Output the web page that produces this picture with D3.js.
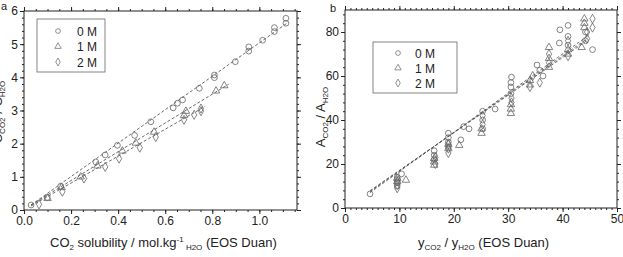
<!DOCTYPE html>
<html>
<head>
<meta charset="utf-8">
<script src="https://cdn.jsdelivr.net/npm/d3@7"></script>
<style>
body { margin: 0; background: #fff; }
text { font-family: "Liberation Sans", Arial, sans-serif; fill: #222; }
</style>
</head>
<body>
<svg id="chart" width="623" height="257"></svg>
<script>
// ---- panel a data (ratio vs CO2 solubility) ----
var a0x = [0.03, 0.099, 0.156, 0.305, 0.345, 0.397, 0.47, 0.539, 0.634, 0.652, 0.674, 0.745, 0.809, 0.809, 0.898, 0.955, 0.955, 1.014, 1.064, 1.064, 1.113, 1.113];
var a0y = [0.15, 0.38, 0.72, 1.45, 1.66, 1.95, 2.25, 2.66, 3.08, 3.22, 3.32, 3.67, 3.99, 4.07, 4.47, 4.79, 4.92, 5.12, 5.38, 5.50, 5.63, 5.78];
var a1x = [0.10, 0.16, 0.241, 0.312, 0.418, 0.475, 0.553, 0.68, 0.688, 0.816, 0.851];
var a1y = [0.35, 0.68, 1.00, 1.33, 1.78, 2.02, 2.35, 2.85, 2.98, 3.59, 3.75];
var a2x = [0.064, 0.163, 0.255, 0.345, 0.404, 0.492, 0.56, 0.68, 0.723, 0.752, 0.752];
var a2y = [0.17, 0.55, 0.95, 1.30, 1.55, 1.88, 2.20, 2.72, 2.87, 2.98, 3.06];
// fit lines: [x start, x end, slope, intercept]
var aFits = [[0.03, 1.12, 5.04, 0.0], [0.03, 0.87, 4.34, 0.02], [0.03, 0.77, 4.06, 0.0]];

// ---- panel b data (A ratio vs y ratio) ----
var b0x = [4.6, 9.6, 9.6, 9.6, 9.6, 10.4, 16.4, 16.4, 16.4, 19, 19, 19, 19, 21.3, 22.8, 21.8, 25.3, 25.3, 25.3, 27.6, 30.5, 30.5, 30.5, 30.6, 35.3, 35.8, 36.4, 39.5, 39.4, 41, 41, 41, 44.2, 44.2, 45.5];
var b0y = [6.4, 10, 11.5, 13, 14, 15.5, 22, 24, 26, 28, 30, 32, 34, 31, 36, 37, 36, 40, 44, 45, 52, 55, 57, 59.5, 65, 62.6, 60, 81, 75, 83, 78, 74, 80, 76, 72];
var b1x = [9.6, 9.6, 11.2, 16.4, 16.4, 16.4, 19, 19, 21, 25.1, 25.1, 30.5, 30.5, 30.5, 34, 34, 37.5, 37.5, 37.5, 41, 41, 44, 44, 44, 43.5];
var b1y = [12, 13.5, 12.7, 19.5, 21, 22.5, 27, 29, 28.5, 34, 36, 43, 45, 47, 56, 58, 64, 68, 73, 70, 72, 82, 84, 86, 73];
var b2x = [9.6, 9.6, 9.6, 16.6, 16.6, 19, 19, 19, 25.3, 25.3, 30.6, 30.6, 34, 34.5, 35.8, 37.5, 37.5, 41, 41, 44.5, 44.5, 45.5, 45.5];
var b2y = [9, 10.5, 12, 20, 23, 25, 27, 29, 38, 42, 48, 50, 55, 60, 57, 66, 70, 69, 76, 77, 80, 82, 86];
var bFits = [[4.6, 44.5, 1.78, -1.2], [4.6, 44.5, 1.74, -0.5], [4.6, 44.5, 1.71, 0.0]];

var seriesNames = ["0 M", "1 M", "2 M"];
var symbolTypes = [d3.symbolCircle, d3.symbolTriangle, d3.symbolDiamond];

var svg = d3.select("#chart");

function zip(xs, ys) {
  return xs.map(function(v, i) { return [v, ys[i]]; });
}

function drawPanel(p) {
  var x = d3.scaleLinear().domain(p.xDomain).range([p.left, p.right]);
  var y = d3.scaleLinear().domain(p.yDomain).range([p.bottom, p.top]);
  var g = svg.append("g");

  // minor ticks
  function minorAxis(axis, scale, step) {
    var d = scale.domain(), vals = [];
    for (var v = d[0]; v <= d[1] + 1e-9; v += step) vals.push(+v.toFixed(6));
    return axis(scale).tickValues(vals).tickSize(2).tickFormat("");
  }
  var axes = [
    [d3.axisBottom, x, p.bottom, true, p.xStep, p.xMinor],
    [d3.axisTop, x, p.top, false, p.xStep, p.xMinor],
    [d3.axisLeft, y, p.left, true, p.yStep, p.yMinor],
    [d3.axisRight, y, p.right, false, p.yStep, p.yMinor]
  ];
  axes.forEach(function(a) {
    var horiz = (a[0] === d3.axisBottom || a[0] === d3.axisTop);
    var tr = horiz ? "translate(0," + a[2] + ")" : "translate(" + a[2] + ",0)";
    g.append("g").attr("transform", tr).call(minorAxis(a[0], a[1], a[5]))
      .call(function(s) { s.select(".domain").remove(); })
      .selectAll("line").attr("stroke", "#222");
    var d = a[1].domain(), major = [];
    for (var v = d[0]; v <= d[1] + 1e-9; v += a[4]) major.push(+v.toFixed(6));
    var ax = a[0](a[1]).tickValues(major).tickSize(4).tickPadding(2);
    if (a[3]) ax.tickFormat(p[horiz ? "xFmt" : "yFmt"]); else ax.tickFormat("");
    var gg = g.append("g").attr("transform", tr).call(ax);
    gg.select(".domain").remove();
    gg.selectAll("line").attr("stroke", "#222");
    gg.selectAll("text").attr("font-size", 12).attr("fill", "#222")
      .style("font-family", "'Liberation Sans', Arial, sans-serif");
  });
  g.append("rect").attr("x", p.left).attr("y", p.top)
    .attr("width", p.right - p.left).attr("height", p.bottom - p.top)
    .attr("fill", "none").attr("stroke", "#222").attr("stroke-width", 1);

  // fit lines
  p.fits.forEach(function(f) {
    g.append("line")
      .attr("x1", x(f[0])).attr("y1", y(f[2] * f[0] + f[3]))
      .attr("x2", x(f[1])).attr("y2", y(f[2] * f[1] + f[3]))
      .attr("stroke", "#444").attr("stroke-width", 0.8)
      .attr("stroke-dasharray", "3,2");
  });

  // points
  p.series.forEach(function(s, i) {
    g.selectAll(null).data(s).enter().append("path")
      .attr("d", d3.symbol().type(symbolTypes[i]).size(i === 0 ? 26 : 24))
      .attr("transform", function(d) { return "translate(" + x(d[0]) + "," + y(d[1]) + ")"; })
      .attr("fill", "none").attr("stroke", "#666").attr("stroke-width", 0.8);
  });

  // legend
  var L = p.legend;
  g.append("rect").attr("x", L.x).attr("y", L.y).attr("width", L.w).attr("height", L.h)
    .attr("fill", "#fff").attr("stroke", "#666").attr("stroke-width", 0.8);
  seriesNames.forEach(function(n, i) {
    var cy = L.y + L.row0 + i * L.dy;
    g.append("path")
      .attr("d", d3.symbol().type(symbolTypes[i]).size(18))
      .attr("transform", "translate(" + (L.x + L.sx) + "," + cy + ")")
      .attr("fill", "none").attr("stroke", "#777").attr("stroke-width", 0.8);
    g.append("text").attr("x", L.x + L.tx).attr("y", cy + 4.5)
      .attr("font-size", L.fs).text(n);
  });

  // panel letter
  g.append("text").attr("x", p.letter[0]).attr("y", p.letter[1])
    .attr("font-size", 11).text(p.letterText);
  return g;
}

drawPanel({
  left: 24, right: 297, top: 11, bottom: 210,
  xDomain: [0, 1.16], yDomain: [0, 6],
  xStep: 0.2, xMinor: 0.05, yStep: 1, yMinor: 0.2,
  xFmt: d3.format(".1f"), yFmt: d3.format("d"),
  fits: aFits,
  series: [zip(a0x, a0y), zip(a1x, a1y), zip(a2x, a2y)],
  legend: { x: 37, y: 19, w: 68, h: 53, row0: 12, dy: 15.5, sx: 21, tx: 40, fs: 12 },
  letter: [1, 10], letterText: "a"
});

drawPanel({
  left: 345, right: 617, top: 10, bottom: 208,
  xDomain: [0, 50], yDomain: [0, 90],
  xStep: 10, xMinor: 1, yStep: 20, yMinor: 4,
  xFmt: d3.format("d"), yFmt: d3.format("d"),
  fits: bFits,
  series: [zip(b0x, b0y), zip(b1x, b1y), zip(b2x, b2y)],
  legend: { x: 373, y: 42, w: 84, h: 51, row0: 11, dy: 15, sx: 25, tx: 42, fs: 12 },
  letter: [330, 12], letterText: "b"
});

// axis titles
var t1 = svg.append("text").attr("x", 50).attr("y", 247).attr("font-size", 13);
t1.append("tspan").text("CO");
t1.append("tspan").attr("font-size", 8).attr("dy", 3).text("2");
t1.append("tspan").attr("dy", -3).text(" solubility / mol.kg");
t1.append("tspan").attr("font-size", 8).attr("dy", -5).text("-1");
t1.append("tspan").attr("font-size", 8).attr("dy", 8).text(" H2O");
t1.append("tspan").attr("dy", -3).text(" (EOS Duan)");

var t2 = svg.append("text").attr("x", 418).attr("y", 247).attr("font-size", 13);
t2.append("tspan").text("y");
t2.append("tspan").attr("font-size", 8).attr("dy", 3).text("CO2");
t2.append("tspan").attr("dy", -3).text(" / y");
t2.append("tspan").attr("font-size", 8).attr("dy", 3).text("H2O");
t2.append("tspan").attr("dy", -3).text(" (EOS Duan)");

function yTitle(cx, cy, letter) {
  var t = svg.append("text").attr("transform", "translate(" + cx + "," + cy + ") rotate(-90)")
    .attr("text-anchor", "middle").attr("font-size", 13);
  t.append("tspan").text(letter);
  t.append("tspan").attr("font-size", 8).attr("dy", 3).text("CO2");
  t.append("tspan").attr("dy", -3).text(" / " + letter);
  t.append("tspan").attr("font-size", 8).attr("dy", 3).text("H2O");
}
yTitle(325, 117, "A");
// panel a title sits partly beyond the left edge, as in the source figure
yTitle(2, 112, "C");
</script>
</body>
</html>
